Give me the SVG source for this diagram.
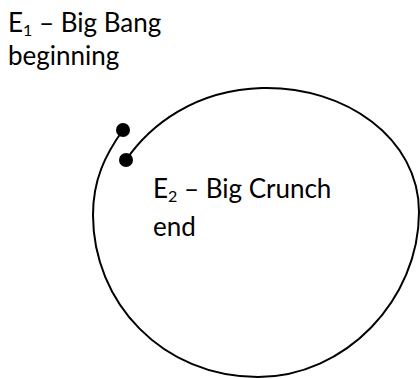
<svg xmlns="http://www.w3.org/2000/svg" width="420" height="379" viewBox="0 0 420 379">
<style>
.t{font-family:Lato,"Open Sans",sans-serif;font-size:26px;fill:#000}
.s{font-size:16px}
.c{fill:none;stroke:#000;stroke-width:2}
</style>
<rect width="420" height="379" fill="#fff"/>
<g id="connectors">
<path class="c" d="M126,160 C150,125 195,90 262,88 C345,86 419,138 419,212 C419,300 345,377 258,377 C162,377 93,302 93,215 C93,180 105,155 123,130"/>
</g>
<g id="E1">
<circle cx="123" cy="130" r="7"/>
<text class="t" x="8" y="32">E<tspan class="s" dy="4">1</tspan><tspan dy="-4"> – Big Bang</tspan></text>
<text class="t" x="8" y="65">beginning</text>
</g>
<g id="E2">
<circle cx="126" cy="160" r="7"/>
<text class="t" x="153" y="198">E<tspan class="s" dy="4">2</tspan><tspan dy="-4"> – Big Crunch</tspan></text>
<text class="t" x="153" y="236">end</text>
</g>
</svg>
